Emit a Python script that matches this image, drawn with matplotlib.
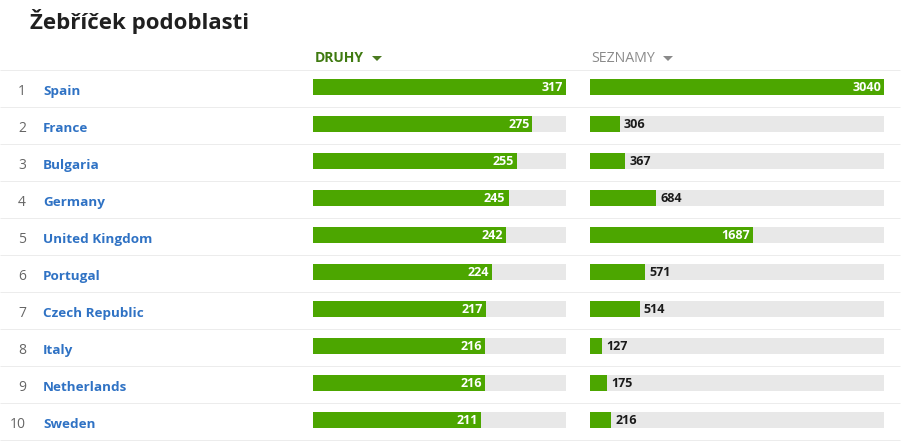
import matplotlib
matplotlib.use('Agg')
import matplotlib.pyplot as plt

countries = ['Spain', 'France', 'Bulgaria', 'Germany', 'United Kingdom', 'Portugal',
             'Czech Republic', 'Italy', 'Netherlands', 'Sweden']
ranks = [1, 2, 3, 4, 5, 6, 7, 8, 9, 10]
druhy = [317, 275, 255, 245, 242, 224, 217, 216, 216, 211]
seznamy = [3040, 306, 367, 684, 1687, 571, 514, 127, 175, 216]

W, H = 907, 443
GREEN = '#4ca600'
GREY = '#e8e8e8'
plt.rcParams['font.family'] = ['Open Sans', 'DejaVu Sans']

fig = plt.figure(figsize=(W / 100, H / 100), dpi=100, facecolor='white')

# overlay in pixel coords for the table stuff
bg = fig.add_axes([0, 0, 1, 1])
bg.set_xlim(0, W)
bg.set_ylim(H, 0)
bg.axis('off')

for i in range(11):
    bg.plot([0, 900], [69.6 + 37 * i] * 2, color='#ececec', lw=0.72, solid_capstyle='butt')

bg.text(30, 29, 'Žebříček podoblasti', fontsize=16, fontweight='bold', color='#202020', va='baseline')
bg.text(315, 62, 'DRUHY', fontsize=10, fontweight='bold', color='#3f7a10', va='baseline')
bg.fill([372, 382, 377], [56, 56, 61], color='#4a7a20', lw=0)
bg.text(591, 62, 'SEZNAMY', fontsize=10.2, color='#8a8a8a', va='baseline')
bg.fill([663, 673, 668], [56, 56, 61], color='#8a8a8a', lw=0)

for i in range(len(countries)):
    y = 95 + 37 * i
    bg.text(26, y, str(ranks[i]), fontsize=10, color='#666666', ha='right', va='baseline')
    bg.text(43, y, countries[i], fontsize=9.7, fontweight='bold', color='#2f72c4', va='baseline')


def bars(left, right, values, vmax, inside_min):
    ax = fig.add_axes([left / W, 1 - 438.5 / H, (right - left) / W, 370 / H])
    ax.patch.set_alpha(0)
    ax.barh(range(10), [vmax] * 10, height=0.432, color=GREY)
    ax.barh(range(10), values, height=0.432, color=GREEN)
    ax.set_xlim(0, vmax)
    ax.set_ylim(9.5, -0.5)
    ax.axis('off')
    for i, v in enumerate(values):
        if v >= inside_min:
            ax.annotate(str(v), (v, i), xytext=(-2.2, -0.5), textcoords='offset points',
                        ha='right', va='center', fontsize=9, fontweight='bold', color='white')
        else:
            ax.annotate(str(v), (v, i), xytext=(3, -0.5), textcoords='offset points',
                        ha='left', va='center', fontsize=9, fontweight='bold', color='#1a1a1a')


bars(313, 566, druhy, 317, 100)
bars(590, 884, seznamy, 3040, 1000)

fig.savefig('out.png', dpi=100)
